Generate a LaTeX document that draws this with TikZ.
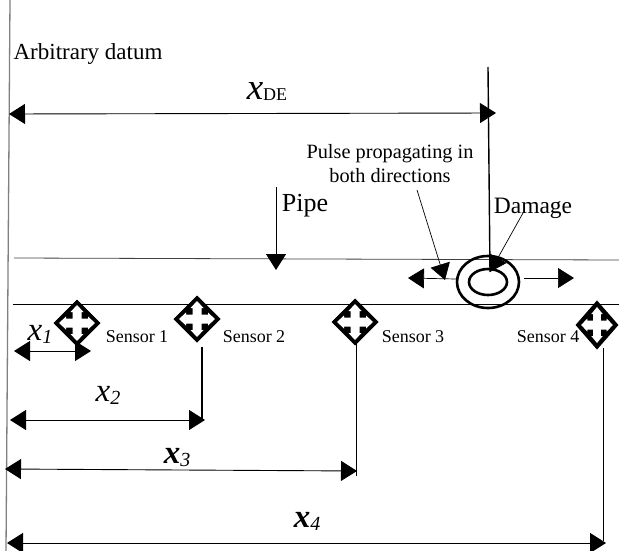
\documentclass[tikz,border=0pt]{standalone}
\usepackage{fontspec}
\setmainfont{Liberation Serif}
\usetikzlibrary{arrows.meta,shapes.geometric}
\tikzset{
  dimline/.style={{Triangle[length=16pt,width=20pt]}-{Triangle[length=16pt,width=20pt]},line width=.9pt},
  pointer/.style={-{Triangle[length=16pt,width=20pt]},line width=.7pt},
  sensormark/.style={diamond,draw,line width=1pt,fill=black,inner sep=0pt,minimum width=46pt,minimum height=46pt},
  ringmark/.style={ellipse,draw,line width=2.6pt,inner sep=0pt},
  lab/.style={anchor=center,inner sep=0pt},
}
\newcommand{\crossmark}[2]{%
\fill[white,shift={(#1)},xscale=#2] (-4.5,-4.5) -- (-4.5,-11) -- (-6.5,-11) -- (0,-18) -- (6.5,-11) -- (4.5,-11) -- (4.5,-4.5) -- (11,-4.5) -- (11,-6.5) -- (18,0) -- (11,6.5) -- (11,4.5) -- (4.5,4.5) -- (4.5,11) -- (6.5,11) -- (0,18) -- (-6.5,11) -- (-4.5,11) -- (-4.5,4.5) -- (-11,4.5) -- (-11,6.5) -- (-18,0) -- (-11,-6.5) -- (-11,-4.5) -- cycle;}
\newcommand{\xlab}[3]{\fontsize{#1}{#1}\selectfont\textit{x}\raisebox{-3pt}{\fontsize{#2}{#2}\selectfont\textit{#3}}}
\newcommand{\xbold}[3]{\fontsize{#1}{#1}\selectfont\textbf{\textit{x}}\raisebox{-3pt}{\fontsize{#2}{#2}\selectfont\textit{#3}}}
\begin{document}
\begin{tikzpicture}[x=1pt,y=-1pt,line width=.8pt]
\path[use as bounding box] (0,0) rectangle (619,551);
% datum and pipe
\coordinate (datumtop) at (10,0);
\coordinate (datumbot) at (6,551);
\draw[line width=1.3pt,black!50] (datumtop) -- (datumbot);
\coordinate (pipetopL) at (14,258);
\coordinate (pipetopR) at (619,260);
\coordinate (pipebotL) at (13,304);
\coordinate (pipebotR) at (619,304);
\draw[black!75] (pipetopL) -- (pipetopR);
\draw (pipebotL) -- (pipebotR);
% sensors
\node[sensormark] (sensorA) at (77,323) {};
\node[sensormark] (sensorB) at (197,319) {};
\node[sensormark] (sensorC) at (355,322) {};
\node[sensormark,minimum width=42pt,minimum height=48pt] (sensorD) at (597,325) {};
\crossmark{sensorA}{1}
\crossmark{sensorB}{1}
\crossmark{sensorC}{1}
\crossmark{sensorD}{.88}
\node[lab,font=\fontsize{18}{20}\selectfont] (labA) at (137,337) {Sensor 1};
\node[lab,font=\fontsize{18}{20}\selectfont] (labB) at (254,337) {Sensor 2};
\node[lab,font=\fontsize{18}{20}\selectfont] (labC) at (413,337) {Sensor 3};
\node[lab,font=\fontsize{18}{20}\selectfont] (labD) at (548,337) {Sensor 4};
% damage
\node[ringmark,minimum width=62pt,minimum height=52pt] (ringO) at (488,282) {};
\node[ringmark,minimum width=38pt,minimum height=26pt] (ringI) at (488,282) {};
\coordinate (damtop) at (488,67);
\coordinate (damend) at (490,272);
\draw[line width=1.4pt] (damtop) -- (damend);
\coordinate (pulseL) at (408,278);
\coordinate (pulseLs) at (456,279);
\coordinate (pulseR) at (574,278);
\coordinate (pulseRs) at (524,278);
\draw[pointer] (pulseLs) -- (pulseL);
\draw[pointer] (pulseRs) -- (pulseR);
\node[lab,font=\fontsize{20.3}{24}\selectfont,align=center] (pulselab) at (390,164) {Pulse propagating in\\both directions};
\coordinate (pulsetail) at (417,190);
\coordinate (pulsetip) at (445,280);
\draw[pointer] (pulsetail) -- (pulsetip);
\node[lab,font=\fontsize{23.5}{26}\selectfont] (damlab) at (533,208) {Damage};
\coordinate (damtail) at (523,213);
\draw[pointer] (damtail) -- (damend);
\node[lab,font=\fontsize{26}{28}\selectfont] (pipelab) at (305,206) {Pipe};
\coordinate (pipetail) at (276,187);
\coordinate (pipetip) at (276,270);
\draw[pointer,line width=.9pt] (pipetail) -- (pipetip);
\node[lab,font=\fontsize{23}{26}\selectfont] (datumlab) at (88,54) {Arbitrary datum};
% dimensions
\coordinate (deL) at (9,114);
\coordinate (deR) at (496,113);
\draw[dimline] (deL) -- (deR);
\node[lab] (xde) at (267,92) {\fontsize{37}{37}\selectfont\textit{x}\raisebox{-1pt}{\fontsize{18}{18}\selectfont DE}};
\coordinate (xaL) at (14,351);
\coordinate (xaR) at (91,351);
\draw[dimline] (xaL) -- (xaR);
\node[lab] (xa) at (40,334) {\xlab{33}{20}{1}};
\coordinate (xbL) at (10,420);
\coordinate (xbR) at (205,420);
\coordinate (xbT) at (202,347);
\draw[dimline] (xbL) -- (xbR);
\draw[line width=1.4pt] (xbT) -- (202,420);
\node[lab] (xb) at (108,395) {\xlab{33}{20}{2}};
\coordinate (xcL) at (5,469);
\coordinate (xcR) at (357,471);
\coordinate (xcT) at (356,344);
\draw[dimline] (xcL) -- (xcR);
\draw (xcT) -- (356,476);
\node[lab] (xc) at (177,458) {\xbold{33}{20}{3}};
\coordinate (xdL) at (7,543);
\coordinate (xdR) at (606,543);
\coordinate (xdT) at (603,348);
\draw[dimline] (xdL) -- (xdR);
\draw (xdT) -- (603,541);
\node[lab] (xd) at (307,521) {\xbold{33}{20}{4}};
\end{tikzpicture}
\end{document}
